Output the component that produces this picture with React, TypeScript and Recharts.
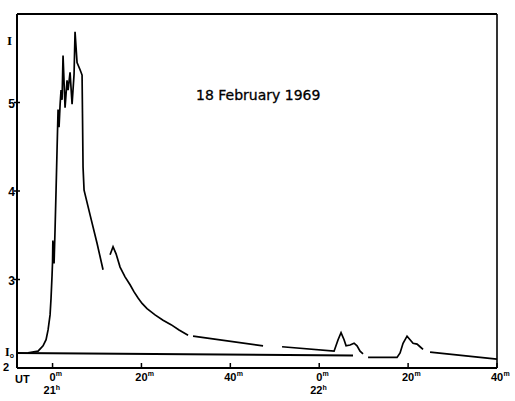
import React from 'react';
import { LineChart, Line, XAxis, YAxis, ReferenceLine } from 'recharts';

// Time in minutes after 21h UT
const curveMinutes = [
  -5.51, -3.26, -2.14, -1.46, -1.01, -0.56, -0.34, -0.11, 0, 0.07, 0.16, 0.25, 0.34,
  0.56, 0.79, 1.01, 1.24, 1.46, 1.69, 1.91, 2.14, 2.36, 2.81, 3.26, 3.49, 3.94, 4.39,
  4.84, 5.06, 5.51, 6.19, 6.64, 6.75, 6.86, 7.09, 8.44, 10.01, 11.36,
  12.0,
  12.94, 13.61, 14.29, 15.19, 16.31, 17.44, 18.34, 19.24, 20.14, 21.26, 23.06, 24.86, 26.66, 28.46, 30.49,
  31.0,
  31.61, 47.36,
  49.5,
  51.64, 63.34, 64.24, 64.91, 65.59, 66.04, 66.94, 67.84, 68.51, 69.19, 69.86,
  70.5,
  70.99, 77.51, 78.19, 78.86, 79.76, 80.44, 81.11, 82.01, 82.69, 83.36,
  84.0,
  84.94, 100,
];
// Intensity (null = gap in record)
const curveValues: (number | null)[] = [
  2.17, 2.19, 2.25, 2.32, 2.43, 2.6, 2.79, 3.05, 3.2, 3.44, 3.2, 3.42, 3.18,
  3.56, 4.01, 4.46, 4.92, 4.72, 4.97, 5.14, 5.03, 5.53, 4.94, 5.25, 5.14, 5.34, 4.98,
  5.32, 5.8, 5.45, 5.37, 5.31, 4.8, 4.27, 4.01, 3.73, 3.41, 3.11,
  null,
  3.28, 3.37, 3.29, 3.14, 3.03, 2.94, 2.86, 2.79, 2.73, 2.67, 2.6, 2.54, 2.49, 2.43, 2.37,
  null,
  2.36, 2.25,
  null,
  2.24, 2.19, 2.32, 2.4, 2.32, 2.25, 2.26, 2.28, 2.25, 2.19, 2.16,
  null,
  2.12, 2.12, 2.17, 2.28, 2.36, 2.32, 2.28, 2.27, 2.24, 2.21,
  null,
  2.18, 2.1,
];

const baselineMinutes = [-8, 67.6];
const baselineValues = [2.17, 2.14];

const xTicks = [0, 20, 40, 60, 80, 100];
const xTickLabels = ['0', '20', '40', '0', '20', '40'];
const hourLabels: Record<number, string> = { 0: '21', 60: '22' };

const yTicks = [2, 2.17, 3, 4, 5, 5.71];
const yTickLabels: Record<number, string> = { 2: '2', 2.17: 'I', 3: '3', 4: '4', 5: '5', 5.71: 'I' };

const title = '18 February 1969';

const curveData = curveMinutes.map((m, i) => ({ m, v: curveValues[i] }));
const baselineData = baselineMinutes.map((m, i) => ({ m, v: baselineValues[i] }));

const SANS = '"Liberation Sans", Arial, sans-serif';
const SERIF = '"Liberation Serif", "Times New Roman", serif';

const XTick = (props: any) => {
  const { x, y, payload } = props;
  const idx = xTicks.indexOf(payload.value);
  const label = xTickLabels[idx] ?? '';
  const hour = hourLabels[payload.value];
  const half = label.length * 3.2;
  return (
    <g>
      <line x1={x} x2={x} y1={y} y2={y - 5} stroke="#000" strokeWidth={1.5} />
      <text x={x} y={y + 13} textAnchor="middle" fontFamily={SANS} fontWeight="bold" fontSize={11} fill="#000">
        {label}
      </text>
      <text x={x + half} y={y + 8} fontFamily={SANS} fontWeight="bold" fontSize={7} fill="#000">
        m
      </text>
      {hour ? (
        <text x={x - 9} y={y + 26} fontFamily={SANS} fontWeight="bold" fontSize={11} fill="#000">
          {hour}
          <tspan dy={-4} fontSize={7}>h</tspan>
        </text>
      ) : null}
      {payload.value === 0 ? (
        <text x={15} y={y + 15} fontFamily={SANS} fontWeight="bold" fontSize={11} fill="#000">
          UT
        </text>
      ) : null}
    </g>
  );
};

const YTick = (props: any) => {
  const { x, y, payload } = props;
  const v = payload.value;
  const label = yTickLabels[v];
  if (v === 2.17) {
    return (
      <text x={5} y={y + 3} fontFamily={SERIF} fontWeight="bold" fontSize={12} fill="#000">
        {label}
        <tspan dy={2} fontSize={7} fontFamily={SANS}>o</tspan>
      </text>
    );
  }
  if (v === 5.71) {
    return (
      <text x={x - 7.5} y={y + 5} textAnchor="middle" fontFamily={SERIF} fontWeight="bold" fontSize={13} fill="#000">
        {label}
      </text>
    );
  }
  if (v === 2) {
    return (
      <text x={x - 8} y={y + 3} textAnchor="end" fontFamily={SANS} fontWeight="bold" fontSize={11} fill="#000">
        {label}
      </text>
    );
  }
  return (
    <g>
      <line x1={x - 3} x2={x + 3} y1={y} y2={y} stroke="#000" strokeWidth={1.5} />
      <text x={x - 2} y={y + 5} textAnchor="end" fontFamily={SANS} fontWeight="bold" fontSize={12} fill="#000">
        {label}
      </text>
    </g>
  );
};

const TitleText = () => (
  <text x={196} y={100} fontFamily='"DejaVu Sans", sans-serif' fontSize={14} fill="#000" stroke="#000" strokeWidth={0.3}>
    {title}
  </text>
);

export default function App() {
  return (
    <div style={{ position: 'absolute', left: 0, top: 0, width: 515, height: 401, background: '#fff' }}>
      <LineChart width={515} height={401} margin={{ top: 14, right: 18, bottom: 0, left: 0 }}>
        <XAxis
          type="number"
          dataKey="m"
          domain={[-8, 100]}
          ticks={xTicks}
          allowDataOverflow
          height={33}
          tickSize={0}
          tickMargin={0}
          tickLine={false}
          axisLine={{ stroke: '#000', strokeWidth: 2 }}
          tick={<XTick />}
          interval={0}
        />
        <YAxis
          type="number"
          domain={[2, 6]}
          ticks={yTicks}
          allowDataOverflow
          width={17}
          tickSize={0}
          tickMargin={0}
          tickLine={false}
          axisLine={{ stroke: '#000', strokeWidth: 2 }}
          tick={<YTick />}
          interval={0}
        />
        <ReferenceLine y={6} stroke="#000" strokeWidth={2} label={<TitleText />} />
        <ReferenceLine x={100} stroke="#000" strokeWidth={1.6} />
        <Line
          data={baselineData}
          dataKey="v"
          type="linear"
          stroke="#000"
          strokeWidth={2}
          dot={false}
          activeDot={false}
          isAnimationActive={false}
        />
        <Line
          data={curveData}
          dataKey="v"
          type="linear"
          stroke="#000"
          strokeWidth={1.7}
          dot={false}
          activeDot={false}
          connectNulls={false}
          isAnimationActive={false}
        />
      </LineChart>
    </div>
  );
}
